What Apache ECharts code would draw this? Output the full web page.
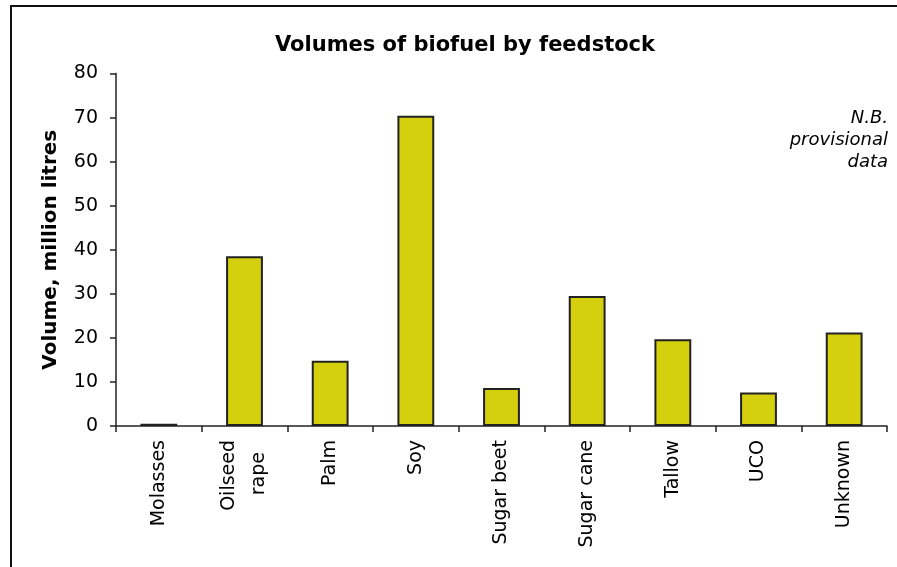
<!DOCTYPE html>
<html>
<head>
<meta charset="utf-8">
<script src="https://cdn.jsdelivr.net/npm/echarts@6/dist/echarts.min.js"></script>
<style>
html,body{margin:0;padding:0;background:#fff;}
#chart{width:897px;height:567px;}
</style>
</head>
<body>
<div id="chart"></div>
<script>
const categories = ['Molasses', 'Oilseed\nrape', 'Palm', 'Soy', 'Sugar beet', 'Sugar cane', 'Tallow', 'UCO', 'Unknown'];
const volumes = [0.5, 38.5, 14.8, 70.4, 8.6, 29.5, 19.7, 7.6, 21.2];
const yTicks = [0, 10, 20, 30, 40, 50, 60, 70, 80];

const chart = echarts.init(document.getElementById('chart'), null, {renderer: 'canvas'});
const font = 'DejaVu Sans, Verdana, sans-serif';
chart.setOption({
  animation: false,
  backgroundColor: '#fff',
  title: {
    text: 'Volumes of biofuel by feedstock',
    left: 460,
    top: 30,
    textAlign: 'center',
    textStyle: {fontFamily: font, fontWeight: 'bold', fontSize: 21, color: '#000'}
  },
  grid: {left: 116, right: 10, top: 73.5, bottom: 141, containLabel: false},
  xAxis: {
    type: 'category',
    data: categories,
    axisLine: {lineStyle: {color: '#222', width: 1.5}},
    axisTick: {show: true, length: 6, lineStyle: {color: '#222', width: 1.5}},
    axisLabel: {
      rotate: 90, margin: 14, interval: 0,
      fontFamily: font, fontSize: 19, color: '#000', lineHeight: 30,
      formatter: function (v) {
        const lines = v.split('\n');
        if (lines.length < 2) return v;
        const maxLen = Math.max.apply(null, lines.map(l => l.length));
        return lines.map(l => l + ' '.repeat(Math.round((maxLen - l.length) * 0.75))).join('\n');
      }
    }
  },
  yAxis: {
    type: 'value',
    min: yTicks[0],
    max: yTicks[yTicks.length - 1],
    interval: yTicks[1] - yTicks[0],
    name: 'Volume, million litres',
    nameLocation: 'middle',
    nameGap: 55,
    nameTextStyle: {fontFamily: font, fontWeight: 'bold', fontSize: 20, color: '#000'},
    axisLine: {show: true, lineStyle: {color: '#222', width: 1.5}},
    axisTick: {show: true, length: 6, lineStyle: {color: '#222', width: 1.5}},
    splitLine: {show: false},
    axisLabel: {margin: 18, fontFamily: font, fontSize: 19, color: '#000'}
  },
  series: [{
    type: 'bar',
    data: volumes,
    barWidth: '43%',
    itemStyle: {color: '#d5d00e', borderColor: '#222', borderWidth: 2}
  }],
  graphic: [
    {
      type: 'rect', z: -1,
      shape: {x: 11, y: 6, width: 1000, height: 1000},
      style: {fill: 'none', stroke: '#111', lineWidth: 2}
    },
    {
      type: 'text', x: 888, y: 107,
      style: {
        text: 'N.B.\nprovisional\ndata', textAlign: 'right', align: 'right',
        font: 'italic 18px DejaVu Sans, Verdana, sans-serif',
        lineHeight: 22, fill: '#000'
      }
    }
  ]
});
</script>
</body>
</html>
